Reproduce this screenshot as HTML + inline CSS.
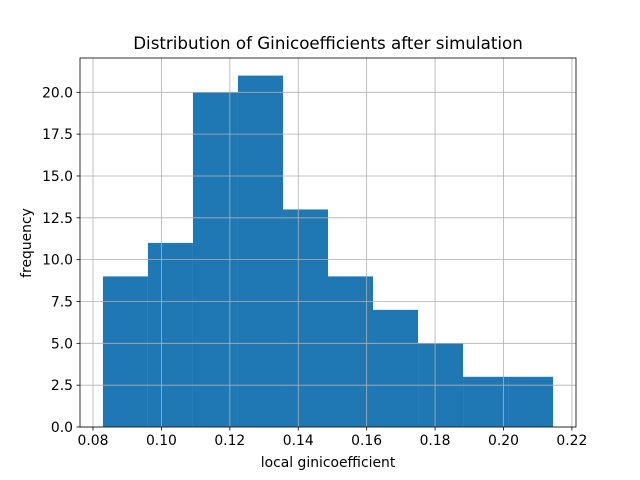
<!DOCTYPE html>
<html><head><meta charset="utf-8"><style>body{margin:0;background:#fff}svg{display:block;font-family:"DejaVu Sans","Liberation Sans",sans-serif}</style></head>
<body>
<svg id="chart" width="640" height="480">
<rect width="640" height="480" fill="#fff"/>
<g id="bars"></g><g id="grid"></g><g id="axes"></g>
<text x="328" y="49" text-anchor="middle" font-size="16.7">Distribution of Ginicoefficients after simulation</text>
<text x="328" y="467" text-anchor="middle" font-size="13.9">local ginicoefficient</text>
<text x="31" y="243" text-anchor="middle" font-size="13.9" transform="rotate(-90 31 243)">frequency</text>
</svg>
<script>
const binStart = 0.0829;
const binEnd = 0.2145;
const counts = [9, 11, 20, 21, 13, 9, 7, 5, 3, 3];
const xTicks = [0.08, 0.10, 0.12, 0.14, 0.16, 0.18, 0.20, 0.22];
const yTicks = [0, 2.5, 5, 7.5, 10, 12.5, 15, 17.5, 20];
const L=80,R=576,T=58,B=427;
const xMin=0.0762,xMax=0.2212,yMax=22.05;
const sx=v=>L+(v-xMin)/(xMax-xMin)*(R-L);
const sy=v=>B-v/yMax*(B-T);
const NS="http://www.w3.org/2000/svg";
function mk(tag,attrs,parent){const e=document.createElementNS(NS,tag);for(const k in attrs)e.setAttribute(k,attrs[k]);parent.appendChild(e);return e;}
const bars=document.getElementById('bars'),grid=document.getElementById('grid'),axes=document.getElementById('axes');
const w=(binEnd-binStart)/counts.length;
counts.forEach((c,i)=>{
  const x0=sx(binStart+i*w),x1=sx(binStart+(i+1)*w);
  const r=mk('rect',{x:x0,y:sy(c),width:x1-x0,height:B-sy(c),fill:'#1f77b4'},bars);
  
  
});
xTicks.forEach(t=>{
  const x=sx(t);
  mk('line',{x1:x,x2:x,y1:T,y2:B,stroke:'#b0b0b0','stroke-width':0.8},grid);
  mk('line',{x1:x,x2:x,y1:B,y2:B+3.5,stroke:'#000','stroke-width':0.8},axes);
  const tx=mk('text',{x:x,y:B+18,'text-anchor':'middle','font-size':13.9},axes);
  tx.textContent=t.toFixed(2);
  
  
});
yTicks.forEach(t=>{
  const y=sy(t);
  mk('line',{x1:L,x2:R,y1:y,y2:y,stroke:'#b0b0b0','stroke-width':0.8},grid);
  mk('line',{x1:L-3.5,x2:L,y1:y,y2:y,stroke:'#000','stroke-width':0.8},axes);
  const tx=mk('text',{x:L-7,y:y+5,'text-anchor':'end','font-size':13.9},axes);
  tx.textContent=t.toFixed(1);
  
  
});
const frame=mk('rect',{x:L,y:T,width:R-L,height:B-T,fill:'none',stroke:'#000','stroke-width':0.8},axes);


</script>
</body></html>
